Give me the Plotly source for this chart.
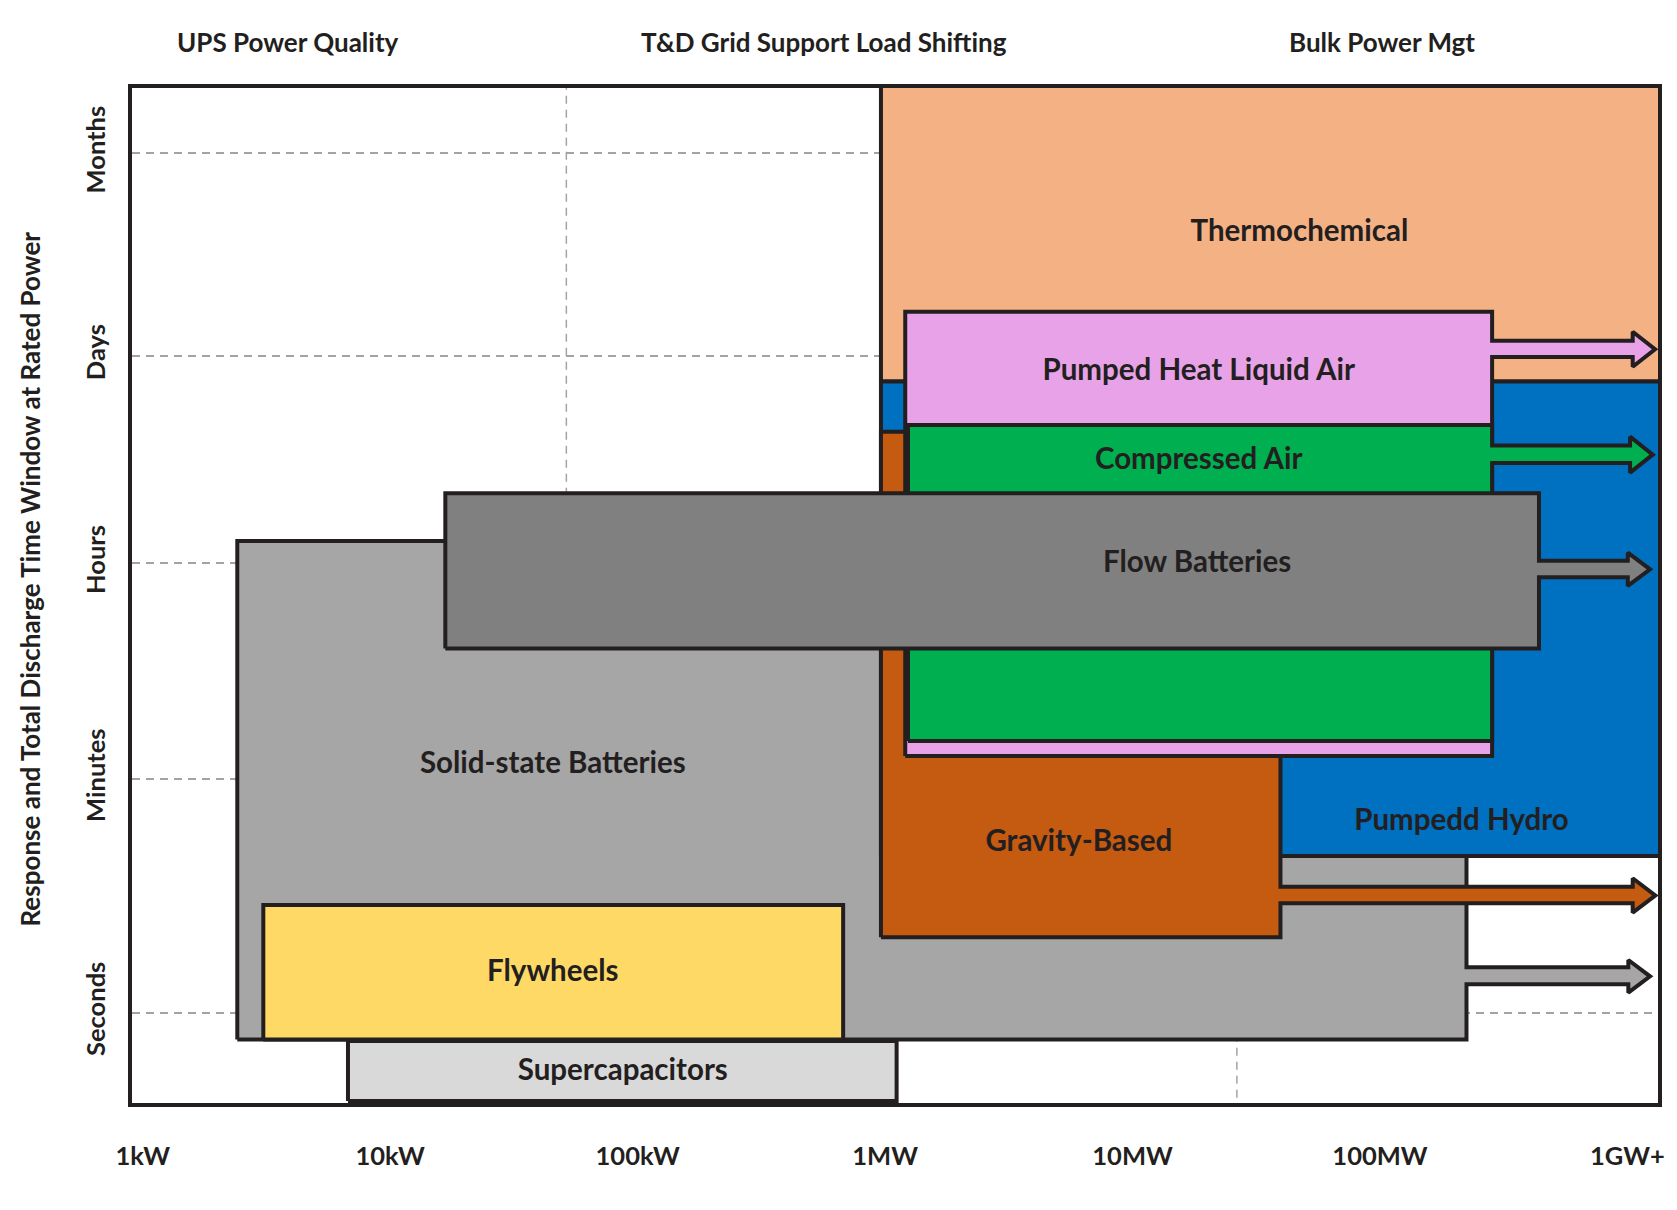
import math
import plotly.graph_objects as go

# ---------------- data ----------------
# x-axis: rated power in kW (log scale)
power_ticks_kw = [1, 10, 100, 1e3, 1e4, 1e5, 1e6]
power_tick_labels = ["1kW", "10kW", "100kW", "1MW", "10MW", "100MW", "1GW+"]

# y-axis: response / discharge time window (relative 0-100 scale)
time_ticks = [8.90, 31.92, 53.17, 73.60, 93.55]
time_tick_labels = ["Seconds", "Minutes", "Hours", "Days", "Months"]

# application bands along the top (height given as fraction of plot height)
app_names = ["UPS Power Quality", "T&D Grid Support Load Shifting", "Bulk Power Mgt"]
app_kw = [3.85, 567, 101600]
app_level = 1.045

# extra dashed vertical guides (kW)
guide_kw = [51.5, 26400]

# technologies (drawn in this order, bottom first)
tech_names = ["Solid-state Batteries", "Thermochemical", "Pumpedd Hydro", "Gravity-Based",
              "Pumped Heat Liquid Air", "Compressed Air", "Flow Batteries",
              "Flywheels", "Supercapacitors"]
tech_kw_min = [2.41, 962, 962, 962, 1206, 1237, 16.7, 3.07, 6.75]
tech_kw_max = [223600, 2e6, 2e6, 39600, 283800, 283800, 438900, 676.7, 1113]
tech_t_min = [6.26, 71.08, 24.33, 16.33, 34.19, 35.67, 44.78, 6.26, 0.2]
tech_t_max = [55.37, 101, 71.08, 66.14, 77.96, 66.80, 60.07, 19.51, 6.11]
tech_colors = ["#a6a6a6", "#f4b183", "#0070c0", "#c55a11", "#e8a3e8",
               "#00b050", "#808080", "#ffd966", "#d9d9d9"]
# arrows ("extends beyond"): shaft low, shaft high, head low, head high, head base kW, tip kW
tech_arrow = [
    (11.69, 13.37, 10.87, 14.09, 1.008e6, 1.234e6),
    None,
    None,
    (19.67, 21.31, 18.75, 22.14, 1.05e6, 1.295e6),
    (73.50, 75.10, 72.54, 75.99, 1.05e6, 1.292e6),
    (63.05, 64.78, 62.10, 65.65, 1.0245e6, 1.265e6),
    (51.79, 53.43, 50.94, 54.22, 1.003e6, 1.234e6),
    None,
    None,
]
label_kw = [45.4, 47240, 213500, 6066, 18500, 18500, 18250, 45.4, 87.1]
label_t = [33.22, 85.62, 27.64, 25.54, 71.92, 63.18, 53.03, 12.71, 2.96]

# ---------------- styling ----------------
INK = "#231f20"
GRID = "#a3a3a3"
FONT = "Lato"

fig = go.Figure()

# dashed vertical guides
for g in guide_kw:
    fig.add_trace(go.Scatter(x=[g, g], y=[-5, 105], mode="lines",
                             line=dict(color=GRID, width=1.5, dash="8px,6px"),
                             hoverinfo="skip", showlegend=False))


def outline(x0, x1, y0, y1, arrow):
    if arrow is None:
        return [x0, x1, x1, x0, x0], [y0, y0, y1, y1, y0]
    slo, shi, hlo, hhi, xb, xt = arrow
    ym = (hlo + hhi) / 2
    xs = [x0, x1, x1, xb, xb, xt, xb, xb, x1, x1, x0, x0]
    ys = [y0, y0, slo, slo, hlo, ym, hhi, shi, shi, y1, y1, y0]
    return xs, ys


for i, name in enumerate(tech_names):
    xs, ys = outline(tech_kw_min[i], tech_kw_max[i], tech_t_min[i], tech_t_max[i], tech_arrow[i])
    fig.add_trace(go.Scatter(x=xs, y=ys, mode="lines", fill="toself",
                             fillcolor=tech_colors[i],
                             line=dict(color=INK, width=4),
                             name=name, hoverinfo="skip", showlegend=False))

# technology labels
fig.add_trace(go.Scatter(x=label_kw, y=label_t, mode="text", text=tech_names,
                         textposition="middle center",
                         textfont=dict(family=FONT, size=29.5, color=INK, weight="bold"),
                         hoverinfo="skip", showlegend=False))

# application labels above the frame (annotations on a log axis take log10 positions)
for name, kw in zip(app_names, app_kw):
    fig.add_annotation(text=name, xref="x", yref="paper", x=math.log10(kw), y=app_level,
                       xanchor="center", yanchor="middle", showarrow=False,
                       font=dict(family=FONT, size=26, color=INK, weight="bold"))

fig.add_annotation(text="Response and Total Discharge Time Window at Rated Power",
                   xref="paper", yref="paper", x=-0.0667, y=0.516,
                   xanchor="center", yanchor="middle",
                   textangle=-90, showarrow=False,
                   font=dict(family=FONT, size=26, color=INK, weight="bold"))

fig.update_layout(
    width=1677, height=1210,
    margin=dict(l=132, r=15, t=88, b=107),
    paper_bgcolor="white", plot_bgcolor="white",
    showlegend=False,
    font=dict(family=FONT, color=INK),
)
fig.update_xaxes(type="log", range=[-0.0435, 6.1234],
                 tickvals=power_ticks_kw, ticktext=power_tick_labels,
                 tickfont=dict(family=FONT, size=25.5, color=INK, weight="bold"),
                 ticks="", ticklabelstandoff=27,
                 showgrid=False, zeroline=False,
                 showline=True, linewidth=4, linecolor=INK, mirror=True)
fig.update_yaxes(range=[0, 100],
                 tickvals=time_ticks, ticktext=time_tick_labels, tickangle=-90,
                 tickfont=dict(family=FONT, size=25.5, color=INK, weight="bold"),
                 ticks="", ticklabelstandoff=13,
                 showgrid=True, gridcolor=GRID, gridwidth=1.5, griddash="8px,6px",
                 zeroline=False,
                 showline=True, linewidth=4, linecolor=INK, mirror=True)

fig.write_html("out.html", config={"displayModeBar": False},
               post_script="document.body.style.margin='0';document.body.style.overflow='hidden';")
